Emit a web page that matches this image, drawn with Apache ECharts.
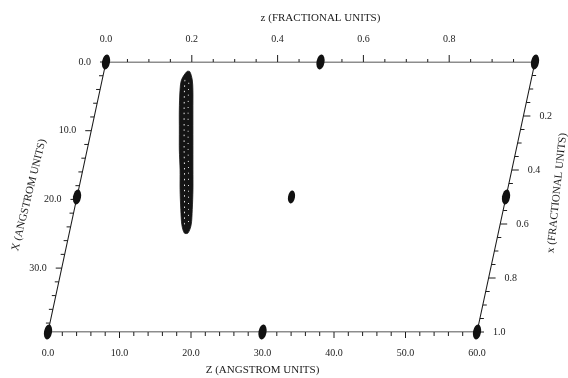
<!DOCTYPE html>
<html><head><meta charset="utf-8">
<script src="https://cdn.jsdelivr.net/npm/echarts@6/dist/echarts.min.js"></script>
<style>html,body{margin:0;padding:0;background:#fff}#c{width:568px;height:378px}</style>
</head><body><div id="c"></div>
<script>
// ---- data ----
const zAngTicks = [0, 10, 20, 30, 40, 50, 60];
const zAngLabels = ['0.0', '10.0', '20.0', '30.0', '40.0', '50.0', '60.0'];
const zFracTicks = [0, 0.2, 0.4, 0.6, 0.8];
const zFracLabels = ['0.0', '0.2', '0.4', '0.6', '0.8'];
const xAngTicks = [0, 10, 20, 30];
const xAngLabels = ['0.0', '10.0', '20.0', '30.0'];
const xFracTicks = [0.2, 0.4, 0.6, 0.8, 1.0];
const xFracLabels = ['0.2', '0.4', '0.6', '0.8', '1.0'];
// atoms in fractional coordinates [z, x]
const atomsLarge = [[0, 0], [0.5, 0], [1, 0], [0, 0.5], [1, 0.5], [0, 1], [0.5, 1], [1, 1]];
const atomsSmall = [[0.5, 0.5]];
// elongated density streak: X (Å) and left/right Z (Å) edges
const streakX = [1.4, 2.6, 4.1, 7.0, 9.9, 12.8, 15.7, 18.6, 21.5, 23.7, 24.9];
const streakZLeft = [11.6, 11.1, 11.2, 11.7, 12.3, 12.9, 13.6, 14.2, 14.9, 15.5, 16.1];
const streakZRight = [12.0, 12.6, 13.0, 13.6, 14.2, 14.8, 15.4, 16.0, 16.5, 16.8, 16.6];
const cellZ = 60;      // Å
const cellX = 39.3;    // Å
const titleTop = 'z (FRACTIONAL UNITS)';
const titleBottom = 'Z (ANGSTROM UNITS)';
const titleLeft = 'X (ANGSTROM UNITS)';
const titleRight = 'x (FRACTIONAL UNITS)';

// ---- oblique cell -> cartesian ----
const SHEAR = 0.2064;
function toCart(Z, X) { return [Z - SHEAR * X, X]; }
const hMin = -SHEAR * cellX;

const INK = '#1c1c1c';
const FONT = 'Liberation Serif';

// frame
const frame = [toCart(0, 0), toCart(cellZ, 0), toCart(cellZ, cellX), toCart(0, cellX), toCart(0, 0)];

// ticks [h, X, dx, dy, len]
const ticks = [];
for (let i = 0; i <= 30; i++) { const Z = i * 2; const p = toCart(Z, cellX); ticks.push([p[0], p[1], 0, 1, Z % 10 === 0 ? 6 : 4]); }
for (let i = 0; i <= 20; i++) { const f = i / 20; const p = toCart(f * cellZ, 0); ticks.push([p[0], p[1], 0, -1, i % 4 === 0 ? 7 : 3]); }
for (let i = 0; i <= 19; i++) { const X = i * 2; const p = toCart(0, X); ticks.push([p[0], p[1], -1, 0, X % 10 === 0 ? 6 : 4]); }
for (let i = 1; i <= 20; i++) { const f = i / 20; const p = toCart(cellZ, f * cellX); ticks.push([p[0], p[1], 1, 0, i % 4 === 0 ? 7 : 4]); }

// labels
const labels = [];
zAngTicks.forEach((z, i) => labels.push({ pos: toCart(z, cellX), text: zAngLabels[i], ox: 0, oy: 21, align: 'center', size: 10 }));
zFracTicks.forEach((f, i) => labels.push({ pos: toCart(f * cellZ, 0), text: zFracLabels[i], ox: 0, oy: -23, align: 'center', size: 10 }));
xAngTicks.forEach((x, i) => labels.push({ pos: toCart(0, x), text: xAngLabels[i], ox: -15, oy: 0, align: 'right', size: 10 }));
xFracTicks.forEach((f, i) => labels.push({ pos: toCart(cellZ, f * cellX), text: xFracLabels[i], ox: 16, oy: 0, align: 'left', size: 10 }));
labels.push({ pos: toCart(cellZ / 2, 0), text: titleTop, ox: 0, oy: -44, align: 'center', size: 11 });
labels.push({ pos: toCart(cellZ / 2, cellX), text: titleBottom, ox: 0, oy: 38, align: 'center', size: 11 });
labels.push({ pos: toCart(0, cellX / 2), text: titleLeft, ox: -48, oy: -2, align: 'center', size: 11, rot: 76 });
labels.push({ pos: toCart(cellZ, cellX / 2), text: titleRight, ox: 51, oy: -4, align: 'center', size: 11, rot: 84 });

const chart = echarts.init(document.getElementById('c'), null, { renderer: 'canvas' });
chart.setOption({
  animation: false,
  backgroundColor: '#fff',
  grid: { left: 48, top: 62, width: 487, height: 270 },
  xAxis: { type: 'value', min: hMin, max: cellZ, show: false },
  yAxis: { type: 'value', min: 0, max: cellX, inverse: true, show: false },
  series: [
    { type: 'line', data: frame, symbol: 'none', lineStyle: { color: INK, width: 1.1 }, z: 2 },
    {
      type: 'custom', data: ticks, z: 2,
      renderItem: (params, api) => {
        const p = api.coord([api.value(0), api.value(1)]);
        const dx = api.value(2), dy = api.value(3), len = api.value(4);
        return { type: 'line', shape: { x1: p[0], y1: p[1], x2: p[0] + dx * len, y2: p[1] + dy * len }, style: { stroke: INK, lineWidth: 1 } };
      }
    },
    {
      type: 'custom', data: labels.map(l => l.pos), z: 3,
      renderItem: (params, api) => {
        const l = labels[params.dataIndex];
        const p = api.coord([api.value(0), api.value(1)]);
        return {
          type: 'text', x: p[0] + l.ox, y: p[1] + l.oy, rotation: (l.rot || 0) * Math.PI / 180,
          style: { text: l.text, x: 0, y: 0, fill: INK, fontSize: l.size, fontFamily: FONT, align: l.align, verticalAlign: 'middle' }
        };
      }
    },
    {
      type: 'custom', data: [[streakZLeft[0], streakX[0]]], z: 4,
      renderItem: (params, api) => {
        const pts = [], mid = [];
        for (let i = 0; i < streakX.length; i++) pts.push(api.coord(toCart(streakZLeft[i], streakX[i])));
        for (let i = streakX.length - 1; i >= 0; i--) pts.push(api.coord(toCart(streakZRight[i], streakX[i])));
        for (let i = 1; i < streakX.length - 1; i++) mid.push(api.coord(toCart((streakZLeft[i] + streakZRight[i]) / 2, streakX[i])));
        return {
          type: 'group', children: [
            { type: 'polygon', shape: { points: pts, smooth: 0.3 }, style: { fill: '#141414', stroke: '#141414', lineWidth: 0.8 } },
            { type: 'polyline', shape: { points: mid.map(p => [p[0] - 2, p[1]]), smooth: 0.3 }, style: { stroke: '#fff', lineWidth: 0.9, lineDash: [1.5, 4], fill: null } },
            { type: 'polyline', shape: { points: mid.map(p => [p[0] + 2, p[1]]), smooth: 0.3 }, style: { stroke: '#fff', lineWidth: 0.9, lineDash: [1, 5], lineDashOffset: 3, fill: null } }
          ]
        };
      }
    },
    {
      type: 'scatter', data: atomsLarge.map(a => toCart(a[0] * cellZ, a[1] * cellX)), z: 5,
      symbol: 'circle', symbolSize: [8, 15], symbolRotate: -10, itemStyle: { color: '#111', opacity: 1 }
    },
    {
      type: 'scatter', data: atomsSmall.map(a => toCart(a[0] * cellZ, a[1] * cellX)), z: 5,
      symbol: 'circle', symbolSize: [7, 13], symbolRotate: -10, itemStyle: { color: '#111', opacity: 1 }
    }
  ]
});
</script>
</body></html>
